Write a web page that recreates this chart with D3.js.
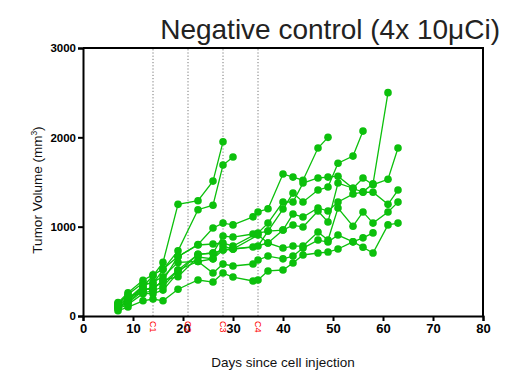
<!DOCTYPE html>
<html>
<head>
<meta charset="utf-8">
<script src="https://cdn.jsdelivr.net/npm/d3@7"></script>
<style>
  html, body { margin: 0; padding: 0; background: #fff; }
  svg { display: block; font-family: "Liberation Sans", Arial, sans-serif; }
</style>
</head>
<body>
<svg id="chart" width="513" height="372"></svg>
<script>
// Tumor volume (mm³) per animal, as [day, volume] pairs
const mouse1  = [[7,100],[9,170],[12,330],[14,450],[16,600],[19,1250],[23,1290],[26,1510],[28,1950]];
const mouse2  = [[7,140],[9,240],[12,370],[14,360],[16,520],[19,730],[23,1190],[26,1240],[28,1690],[30,1780]];
const mouse3  = [[7,120],[9,200],[12,300],[14,300],[16,400],[19,665],[23,800],[26,985],[28,1040],[30,1020],[34,1110],[35,1165],[37,1200],[40,1590],[42,1555],[44,1520],[47,1880],[49,2000]];
const mouse4  = [[7,90],[9,150],[12,280],[14,330],[16,370],[19,515],[23,690],[26,705],[28,895],[30,884],[34,918],[37,951],[40,1197],[42,1376],[44,1276],[47,1410],[49,1444],[51,1710],[54,1790],[56,2070]];
const mouse5  = [[7,150],[9,260],[12,400],[14,460],[16,525],[19,665],[23,795],[26,806],[28,817],[30,783],[35,929],[37,1040],[40,1276],[42,1276],[44,1488],[47,1545],[49,1555],[51,1565],[54,1430],[56,1545],[58,1470],[61,1530],[63,1880]];
const mouse6  = [[7,110],[9,190],[12,340],[14,380],[16,440],[19,600],[23,610],[26,640],[28,783],[30,750],[35,906],[37,817],[40,962],[42,1141],[44,1108],[47,1209],[49,1175],[51,1276],[54,1365],[56,1390],[58,1480],[61,2500]];
const mouse7  = [[7,80],[9,130],[12,250],[14,250],[16,290],[19,485],[23,690],[26,705],[28,739],[30,750],[34,772],[37,817],[40,761],[42,783],[44,783],[47,940],[49,850],[51,1209],[54,1005],[56,1165],[58,1040],[61,1165],[63,1275]];
const mouse8  = [[7,100],[9,160],[12,300],[14,300],[16,400],[19,440],[23,660],[26,640],[28,739],[30,750],[35,783],[37,951],[40,962],[42,1018],[44,996],[47,1175],[49,1052],[51,1488],[54,1430],[56,1385],[58,1385],[61,1250],[63,1410]];
const mouse9  = [[7,60],[9,100],[12,170],[14,190],[16,170],[19,300],[23,403],[26,380],[28,481],[30,436],[34,392],[35,403],[37,504],[40,515],[42,593],[44,683],[47,705],[49,716],[51,750],[54,830],[56,770],[58,705],[61,1020],[63,1040]];
const mouse10 = [[7,130],[9,220],[12,260],[14,280],[16,330],[19,515],[23,610],[26,481],[28,582],[30,560],[34,582],[35,627],[37,671],[40,640],[42,671],[44,760],[47,850],[49,828],[51,906],[54,830],[56,875],[58,930]];

const allMice = [mouse1, mouse2, mouse3, mouse4, mouse5, mouse6, mouse7, mouse8, mouse9, mouse10];

// Treatment cycle days and their labels
const cycleDays = [14, 21, 28, 35];
const cycleLabels = ["C1", "C2", "C3", "C4"];

const xTicks = [0, 10, 20, 30, 40, 50, 60, 70, 80];
const yTicks = [0, 1000, 2000, 3000];

const svg = d3.select("#chart");
const m = { left: 83, right: 30, top: 48, bottom: 56 };
const W = 513, H = 372;

const x = d3.scaleLinear().domain([0, 80]).range([m.left, W - m.right]);
const y = d3.scaleLinear().domain([0, 3000]).range([H - m.bottom, m.top]);

// Title
svg.append("text")
  .attr("x", 500).attr("y", 39)
  .attr("text-anchor", "end")
  .attr("font-size", 28)
  .attr("fill", "#222")
  .text("Negative control (4x 10μCi)");

// Cycle marker lines
svg.append("g").selectAll("line").data(cycleDays).join("line")
  .attr("x1", d => x(d)).attr("x2", d => x(d))
  .attr("y1", y(0)).attr("y2", y(3000))
  .attr("stroke", "#777").attr("stroke-width", 1)
  .attr("stroke-dasharray", "1.2,2");

// Frame (top and right edges)
svg.append("path")
  .attr("d", `M${x(0)},${y(3000)}H${x(80)}V${y(0)}`)
  .attr("fill", "none").attr("stroke", "#000").attr("stroke-width", 2);

// Minor ticks
const gx = svg.append("g").attr("transform", `translate(0,${y(0)})`);
gx.call(d3.axisBottom(x).tickValues(d3.range(0, 81, 1)).tickSize(3).tickFormat(""))
  .call(g => g.select(".domain").remove())
  .call(g => g.selectAll("line").attr("stroke-width", 1.2));
gx.call(d3.axisBottom(x).tickValues(xTicks).tickSize(5).tickPadding(3))
  .call(g => g.select(".domain").attr("stroke-width", 2))
  .call(g => g.selectAll("line").attr("stroke-width", 2))
  .call(g => g.selectAll("text").attr("font-size", 13).attr("font-weight", "bold")
     .attr("fill", "#000").attr("font-family", "Liberation Sans, Arial, sans-serif"));

const gy = svg.append("g").attr("transform", `translate(${x(0)},0)`);
gy.call(d3.axisLeft(y).tickValues(d3.range(0, 3001, 100)).tickSize(3).tickFormat(""))
  .call(g => g.select(".domain").remove())
  .call(g => g.selectAll("line").attr("stroke-width", 1.2));
gy.call(d3.axisLeft(y).tickValues(yTicks).tickSize(5).tickPadding(2).tickFormat(d3.format("d")))
  .call(g => g.select(".domain").attr("stroke-width", 2))
  .call(g => g.selectAll("line").attr("stroke-width", 2))
  .call(g => g.selectAll("text").attr("font-size", 11.5).attr("font-weight", "bold")
     .attr("fill", "#000").attr("font-family", "Liberation Sans, Arial, sans-serif"));

// Cycle labels under the axis
svg.append("g").selectAll("text").data(cycleDays).join("text")
  .attr("transform", d => `translate(${x(d) - 3},${y(0) + 5}) rotate(90)`)
  .attr("font-size", 9).attr("fill", "#f00")
  .text((d, i) => cycleLabels[i]);

// Axis titles
svg.append("text")
  .attr("x", 283).attr("y", 367)
  .attr("text-anchor", "middle").attr("font-size", 13.5).attr("fill", "#111")
  .text("Days since cell injection");

const yt = svg.append("text")
  .attr("transform", `translate(42,${(y(0) + y(3000)) / 2 + 8}) rotate(-90)`)
  .attr("text-anchor", "middle").attr("font-size", 13.5).attr("fill", "#111");
yt.append("tspan").text("Tumor Volume (mm");
yt.append("tspan").attr("font-size", 8.5).attr("dy", -5).text("3");
yt.append("tspan").attr("dy", 5).text(")");

// Growth curves
const green = "#0cc00c";
const line = d3.line().x(d => x(d[0])).y(d => y(d[1]));
const plot = svg.append("g");
plot.selectAll("path").data(allMice).join("path")
  .attr("d", line).attr("fill", "none")
  .attr("stroke", green).attr("stroke-width", 1.3);
plot.selectAll("g").data(allMice).join("g")
  .selectAll("circle").data(d => d).join("circle")
  .attr("cx", d => x(d[0])).attr("cy", d => y(d[1]))
  .attr("r", 3.8).attr("fill", green);
</script>
</body>
</html>
